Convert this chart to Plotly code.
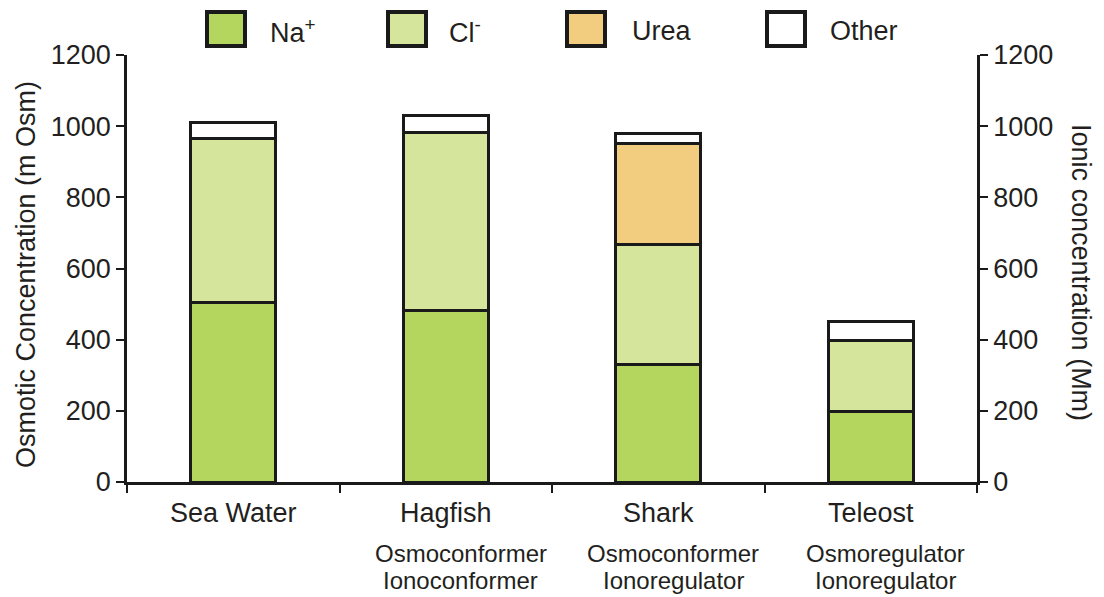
import plotly.graph_objects as go

# ---------------- data ----------------
categories = ["Sea Water", "Hagfish", "Shark", "Teleost"]
sub_line1 = ["", "Osmoconformer", "Osmoconformer", "Osmoregulator"]
sub_line2 = ["", "Ionoconformer", "Ionoregulator", "Ionoregulator"]

na_vals = [505, 483, 330, 197]
cl_vals = [460, 500, 338, 202]
urea_vals = [None, None, 282, None]
other_vals = [45, 47, 30, 51]

series_names = ["Na<sup>+</sup>", "Cl<sup>-</sup>", "Urea", "Other"]
series_colors = ["#b5d65e", "#d6e59c", "#f2cd80", "#ffffff"]
series_values = [na_vals, cl_vals, urea_vals, other_vals]

y_ticks = [0, 200, 400, 600, 800, 1000, 1200]
left_title = "Osmotic Concentration (m Osm)"
right_title = "Ionic concentration (Mm)"

# ---------------- layout constants ----------------
# page body has an 8px margin, so the figure is drawn 8px smaller and all
# reference pixel positions are shifted by OFF
OFF = 8
W, H = 1104 - OFF, 597 - OFF
ML, MR, MT, MB = 127 - OFF, 127, 55 - OFF, 115
PW = W - ML - MR
PH = H - MT - MB
FONT = "Liberation Sans, Arial, Helvetica, sans-serif"
TXT = "#231f20"


def px2x(px):
    return (px - OFF - ML) / PW


def py2y(py):
    return (H - MB - (py - OFF)) / PH


fig = go.Figure()

xs = list(range(len(categories)))
for name, color, vals in zip(series_names, series_colors, series_values):
    fig.add_trace(go.Bar(
        x=xs, y=vals, name=name, width=0.4,
        marker=dict(color=color, line=dict(color="#1a1a1a", width=3)),
        showlegend=False, hoverinfo="y",
    ))

# invisible trace to activate the right axis
fig.add_trace(go.Scatter(x=[None], y=[None], yaxis="y2", showlegend=False,
                         hoverinfo="skip"))

axis_common = dict(
    range=[0, 1200], tickvals=y_ticks, ticks="outside", ticklen=8,
    tickwidth=2, tickcolor="#1a1a1a", showline=True, linewidth=2.5,
    linecolor="#1a1a1a", showgrid=False, zeroline=False,
    tickfont=dict(family=FONT, size=27, color=TXT),
)

fig.update_layout(
    width=W, height=H,
    margin=dict(l=ML, r=MR, t=MT, b=MB),
    paper_bgcolor="white", plot_bgcolor="white",
    barmode="stack",
    showlegend=False,
    xaxis=dict(
        range=[-0.5, len(categories) - 0.5],
        tickvals=[i - 0.5 for i in range(len(categories) + 1)],
        showticklabels=False, ticks="outside", ticklen=8, tickwidth=2,
        tickcolor="#1a1a1a", showline=True, linewidth=2.5,
        linecolor="#1a1a1a", showgrid=False, zeroline=False,
    ),
    yaxis=dict(side="left", **axis_common),
    yaxis2=dict(side="right", overlaying="y", **axis_common),
)

annotations = []
# category labels
for i, (c, s1, s2) in enumerate(zip(categories, sub_line1, sub_line2)):
    annotations.append(dict(x=i, y=0, xref="x", yref="paper", text=c,
                            showarrow=False, yanchor="middle", yshift=-31,
                            font=dict(family=FONT, size=27, color=TXT)))
    if s1:
        annotations.append(dict(x=i, y=0, xref="x", yref="paper", text=s1,
                                showarrow=False, yanchor="middle", yshift=-71,
                                xshift=15,
                                font=dict(family=FONT, size=24, color=TXT)))
    if s2:
        annotations.append(dict(x=i, y=0, xref="x", yref="paper", text=s2,
                                showarrow=False, yanchor="middle", yshift=-98,
                                xshift=15,
                                font=dict(family=FONT, size=24, color=TXT)))

# axis titles
annotations.append(dict(x=px2x(26), y=py2y(275), xref="paper", yref="paper",
                        text=left_title, textangle=-90, showarrow=False,
                        xanchor="center", yanchor="middle",
                        font=dict(family=FONT, size=27, color=TXT)))
annotations.append(dict(x=px2x(1081), y=py2y(272), xref="paper", yref="paper",
                        text=right_title, textangle=90, showarrow=False,
                        xanchor="center", yanchor="middle",
                        font=dict(family=FONT, size=27, color=TXT)))

# custom legend (large boxed squares)
leg_sq_left = [207, 388, 567, 767]
leg_txt_left = [268, 447, 630, 828]
shapes = []
for name, color, sl, tl in zip(series_names, series_colors, leg_sq_left, leg_txt_left):
    shapes.append(dict(type="rect", xref="paper", yref="paper",
                       x0=px2x(sl), x1=px2x(sl + 38), y0=py2y(46), y1=py2y(12),
                       fillcolor=color, line=dict(color="#1a1a1a", width=4)))
    annotations.append(dict(x=px2x(tl), y=py2y(31), xref="paper", yref="paper",
                            text=name, showarrow=False, xanchor="left",
                            yanchor="middle",
                            font=dict(family=FONT, size=27, color=TXT)))

fig.update_layout(annotations=annotations, shapes=shapes)

fig.write_html("out.html")
